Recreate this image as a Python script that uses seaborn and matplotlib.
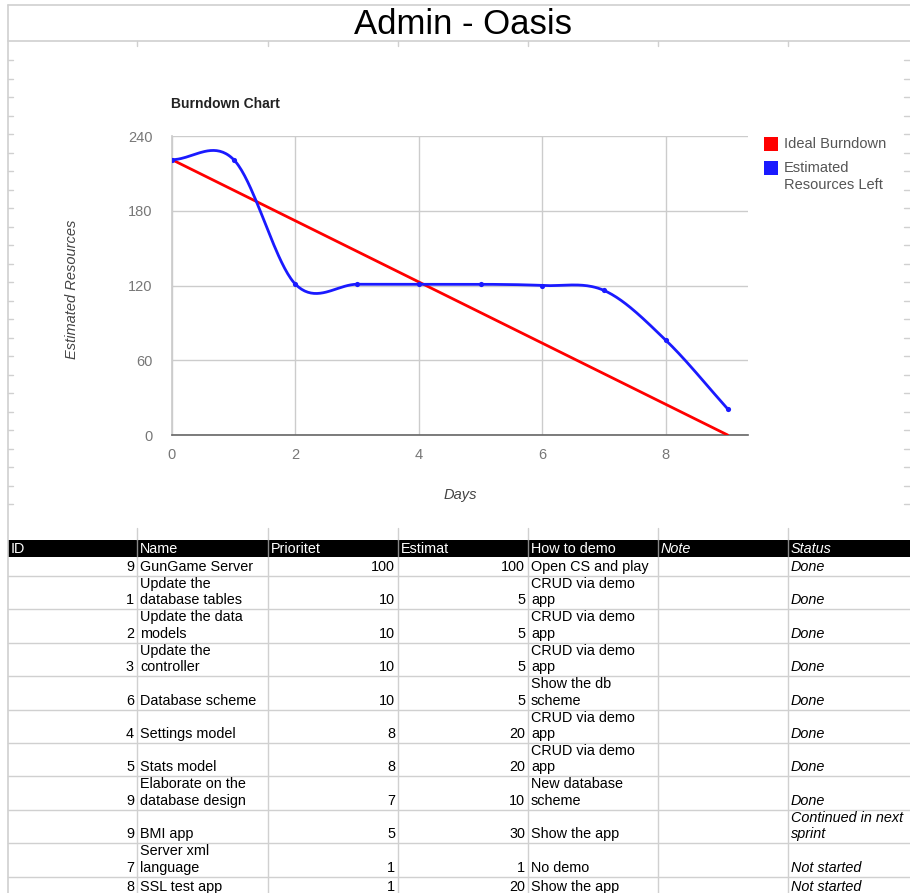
import numpy as np
import pandas as pd
import matplotlib
matplotlib.use("Agg")
import matplotlib.pyplot as plt
from matplotlib.patches import Rectangle
import seaborn as sns

# ---------------- data ----------------
days = [0, 1, 2, 3, 4, 5, 6, 7, 8, 9]
estimated_left = [221, 221, 121, 121, 121, 121, 120, 116, 76, 21]
ideal_days = [0, 9]
ideal_left = [221, 0]
y_ticks = [0, 60, 120, 180, 240]
x_ticks = [0, 2, 4, 6, 8]
legend_labels = ["Ideal Burndown", "Estimated\nResources Left"]

headers = ["ID", "Name", "Prioritet", "Estimat", "How to demo", "Note", "Status"]
ids = [9, 1, 2, 3, 6, 4, 5, 9, 9, 7, 8]
names = ["GunGame Server", "Update the\ndatabase tables", "Update the data\nmodels",
         "Update the\ncontroller", "Database scheme", "Settings model", "Stats model",
         "Elaborate on the\ndatabase design", "BMI app", "Server xml\nlanguage", "SSL test app"]
priorities = [100, 10, 10, 10, 10, 8, 8, 7, 5, 1, 1]
estimates = [100, 5, 5, 5, 5, 20, 20, 10, 30, 1, 20]
demos = ["Open CS and play", "CRUD via demo\napp", "CRUD via demo\napp", "CRUD via demo\napp",
         "Show the db\nscheme", "CRUD via demo\napp", "CRUD via demo\napp", "New database\nscheme",
         "Show the app", "No demo", "Show the app"]
notes = ["", "", "", "", "", "", "", "", "", "", ""]
statuses = ["Done", "Done", "Done", "Done", "Done", "Done", "Done", "Done",
            "Continued in next\nsprint", "Not started", "Not started"]

# ---------------- style ----------------
sns.set_theme(style="white")
plt.rcParams['font.family'] = ['Liberation Sans', 'DejaVu Sans']

W, H = 910, 893
fig = plt.figure(figsize=(W / 100, H / 100), dpi=100)
fig.patch.set_facecolor("white")

# overlay (pixel coordinates) for the spreadsheet parts
ov = fig.add_axes([0, 0, 1, 1], zorder=0)
ov.set_xlim(0, W)
ov.set_ylim(H, 0)
ov.axis("off")

grid_c = "#d0d0d0"
col_x = [8, 137, 268, 398, 528, 658, 788, 910]

# sheet frame
ov.plot([8, 8], [5, H], color=grid_c, lw=1.2)
ov.plot([8, W], [5, 5], color=grid_c, lw=1.2)
ov.plot([8, W], [41, 41], color=grid_c, lw=1.2)
ov.text(463, 24, "Admin - Oasis", fontsize=25, ha="center", va="center", color="black")
for cx in col_x[1:-1]:
    ov.plot([cx, cx], [41, 46], color=grid_c, lw=1)
    ov.plot([cx, cx], [528, 540], color=grid_c, lw=1)
for k in range(25):
    yy = 60 + 18.5 * k
    ov.plot([8, 13], [yy, yy], color=grid_c, lw=1)
    ov.plot([904, 910], [yy, yy], color=grid_c, lw=1)

# table header
ov.add_patch(Rectangle((8, 540), W - 8, 17, color="black", lw=0))
for j, h in enumerate(headers):
    ov.text(col_x[j] + 3, 549, h, color="white", fontsize=10.4, va="center", ha="left",
            style="italic" if h in ("Note", "Status") else "normal")
for cx in col_x[1:-1]:
    ov.plot([cx, cx], [540, 557], color="#888888", lw=1)

# table body
top = 557
for i in range(len(ids)):
    cells = [str(ids[i]), names[i], str(priorities[i]), str(estimates[i]), demos[i], notes[i], statuses[i]]
    nl = max(c.count("\n") + 1 for c in cells)
    hgt = 19 if nl == 1 else 33.4
    bot = top + hgt
    for j, c in enumerate(cells):
        if c == "":
            continue
        if j in (0, 2, 3):
            ov.text(col_x[j + 1] - 3, bot - 2, c, fontsize=10.4, ha="right", va="bottom", color="black")
        else:
            ov.text(col_x[j] + 3, bot - 2, c, fontsize=10.4, ha="left", va="bottom", color="black",
                    linespacing=1.22, style="italic" if j == 6 else "normal")
    ov.plot([8, W], [bot, bot], color=grid_c, lw=1)
    top = bot
for cx in col_x[1:-1]:
    ov.plot([cx, cx], [557, H], color=grid_c, lw=1)

# ---------------- chart ----------------
def catmull_rom(x, y, n=40):
    x = np.asarray(x, float)
    y = np.asarray(y, float)
    m = np.empty_like(y)
    m[1:-1] = (y[2:] - y[:-2]) / 2.0
    m[0] = y[1] - y[0]
    m[-1] = y[-1] - y[-2]
    xs, ys = [], []
    for i in range(len(x) - 1):
        t = np.linspace(0, 1, n, endpoint=(i == len(x) - 2))
        h00 = 2 * t**3 - 3 * t**2 + 1
        h10 = t**3 - 2 * t**2 + t
        h01 = -2 * t**3 + 3 * t**2
        h11 = t**3 - t**2
        xs.append(x[i] + t * (x[i + 1] - x[i]))
        ys.append(h00 * y[i] + h10 * m[i] + h01 * y[i + 1] + h11 * m[i + 1])
    return np.concatenate(xs), np.concatenate(ys)

ax_l, ax_r, ax_t, ax_b = 172, 748, 136, 435
ax = fig.add_axes([ax_l / W, (H - ax_b) / H, (ax_r - ax_l) / W, (ax_b - ax_t) / H], zorder=2)
ax.patch.set_alpha(0)

sx, sy = catmull_rom(days, estimated_left)
smooth = pd.DataFrame({"day": sx, "left": sy})
ideal = pd.DataFrame({"day": ideal_days, "left": ideal_left})
pts = pd.DataFrame({"day": days, "left": estimated_left})

sns.lineplot(data=ideal, x="day", y="left", ax=ax, color="#ff0000", lw=2, estimator=None, zorder=3)
sns.lineplot(data=smooth, x="day", y="left", ax=ax, color="#1a1aff", lw=2, estimator=None,
             sort=False, zorder=4)
sns.scatterplot(data=pts, x="day", y="left", ax=ax, color="#1a1aff", s=14, linewidth=0, zorder=5)

ax.set_xlim(0, 9.33)
ax.set_ylim(0, 240)
ax.set_xticks(x_ticks)
ax.set_yticks(y_ticks)
ax.grid(True, color="#cccccc", lw=1)
ax.set_axisbelow(True)
for s in ["top", "right"]:
    ax.spines[s].set_visible(False)
ax.spines["left"].set_color("#cccccc")
ax.spines["bottom"].set_color("#666666")
ax.spines["bottom"].set_linewidth(1.2)
ax.tick_params(axis="both", length=0, labelsize=10.5, colors="#777777")
ax.tick_params(axis="y", pad=14)
ax.tick_params(axis="x", pad=9)
ax.set_xlabel("")
ax.set_ylabel("")

ov.text(460, 495, "Days", fontsize=10.5, style="italic", color="#444444", ha="center", va="center")
ov.text(72, 289, "Estimated Resources", fontsize=10.5, style="italic", color="#444444",
        ha="center", va="center", rotation=90)
ov.text(171, 104, "Burndown Chart", fontsize=10, weight="bold", color="#222222", ha="left", va="center")

# legend
leg_colors = ["#ff0000", "#1a1aff"]
leg_y = [137, 161]
for c, yy, lab in zip(leg_colors, leg_y, legend_labels):
    ov.add_patch(Rectangle((764, yy), 14, 14, color=c, lw=0))
    if "\n" in lab:
        ov.text(784, yy, lab, fontsize=10.5, color="#555555", ha="left", va="top", linespacing=1.3)
    else:
        ov.text(784, yy + 7, lab, fontsize=10.5, color="#555555", ha="left", va="center")

fig.savefig("out.png", dpi=100)
